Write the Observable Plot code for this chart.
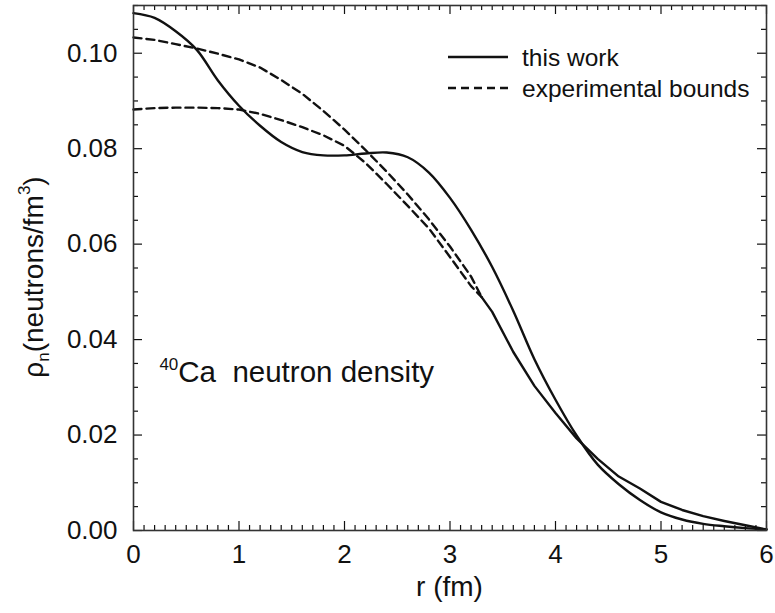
<!DOCTYPE html>
<html><head><meta charset="utf-8">
<script src="https://cdn.jsdelivr.net/npm/d3@7"></script>
<script src="https://cdn.jsdelivr.net/npm/@observablehq/plot@0.6"></script>
<style>
body{margin:0;background:#fff}
#chart svg{display:block}
</style>
</head><body><div id="chart"></div>
<script>
// ---- data ----
const rThis = [0,0.2,0.4,0.6,0.8,1.0,1.2,1.4,1.6,1.8,2.0,2.2,2.4,2.6,2.8,3.0,3.2,3.4,3.6,3.8,4.0,4.2,4.4,4.6,4.8,5.0,5.2,5.4,5.6,5.8,6.0];
const rhoThis = [0.1084,0.1074,0.1046,0.1007,0.0943,0.0890,0.0848,0.0814,0.0793,0.0786,0.0786,0.0790,0.0792,0.0782,0.0750,0.0697,0.0630,0.0552,0.0460,0.0359,0.0274,0.0199,0.0138,0.0097,0.0064,0.0038,0.0023,0.0014,0.0009,0.0005,0.0002];
const rExp = [0,0.2,0.4,0.6,0.8,1.0,1.2,1.4,1.6,1.8,2.0,2.2,2.4,2.6,2.8,3.0,3.2,3.3,3.4,3.6,3.8,4.0,4.2,4.4,4.6,4.8,5.0,5.2,5.4,5.6,5.8,6.0];
const rhoExpUpper = [0.1033,0.1028,0.1019,0.1010,0.0999,0.0987,0.0970,0.0944,0.0915,0.0879,0.0840,0.0797,0.0752,0.0704,0.0652,0.0595,0.0532,0.0489,0.0458,0.0374,0.0303,0.0246,0.0193,0.0150,0.0113,0.0088,0.0060,0.0043,0.0030,0.0020,0.0011,0.0002];
const rhoExpLower = [0.0882,0.0885,0.0886,0.0886,0.0885,0.0882,0.0873,0.0860,0.0845,0.0828,0.0806,0.0770,0.0726,0.0680,0.0633,0.0573,0.0512,0.0489,0.0458,0.0374,0.0303,0.0246,0.0193,0.0150,0.0113,0.0088,0.0060,0.0043,0.0030,0.0020,0.0011,0.0002];
const mergeR = 3.3; // beyond this the two bounds coincide
const xTicks = [0,1,2,3,4,5,6];
const yTicks = [0,0.02,0.04,0.06,0.08,0.10];
const yTickLabels = ["0.00","0.02","0.04","0.06","0.08","0.10"];
const seriesNames = ["this work","experimental bounds"];
const xLabel = "r (fm)";
const annotation = {sup: "40", text: "Ca  neutron density", r: 0.25, rho: 0.031};

// ---- layout ----
const W = 775, H = 613;
const mL = 133, mR = 9, mT = 5, mB = 83;
const fW = W - mL - mR, fH = H - mT - mB;
const font = "'Liberation Sans', Arial, Helvetica, sans-serif";
const ink = "#111";

const thisWork = rThis.map((r,i) => ({r, rho: rhoThis[i]}));
const expUp = rExp.map((r,i) => ({r, rho: rhoExpUpper[i]}));
const expLo = rExp.map((r,i) => ({r, rho: rhoExpLower[i]}));

const xMinor = d3.range(0, 61).map(i => i/10).filter(v => Math.abs(v - Math.round(v)) > 1e-9);
const yMinor = d3.range(0, 23).map(i => i*0.005).filter(v => Math.abs(v/0.02 - Math.round(v/0.02)) > 1e-9);

const majLen = 9, minLen = 5;

const plot = Plot.plot({
  width: W, height: H,
  marginLeft: mL, marginRight: mR, marginTop: mT, marginBottom: mB,
  style: {fontFamily: font, fontSize: "26px", color: ink, background: "#fff"},
  x: {domain: [0, 6]},
  y: {domain: [0, 0.11]},
  marks: [
    // curves
    Plot.line(expUp.filter(d => d.r <= mergeR + 1e-9), {x: "r", y: "rho", stroke: ink, strokeWidth: 2.4, strokeDasharray: "8,5"}),
    Plot.line(expLo.filter(d => d.r <= mergeR + 1e-9), {x: "r", y: "rho", stroke: ink, strokeWidth: 2.4, strokeDasharray: "8,5"}),
    Plot.line(expLo.filter(d => d.r >= mergeR - 1e-9), {x: "r", y: "rho", stroke: ink, strokeWidth: 2.4}),
    Plot.line(thisWork, {x: "r", y: "rho", stroke: ink, strokeWidth: 2.4, curve: "catmull-rom"}),
    // inward ticks on all four sides
    Plot.tickX(xTicks, {x: d => d, insetTop: fH - majLen, stroke: ink, strokeWidth: 1.2}),
    Plot.tickX(xTicks, {x: d => d, insetBottom: fH - majLen, stroke: ink, strokeWidth: 1.2}),
    Plot.tickX(xMinor, {x: d => d, insetTop: fH - minLen, stroke: ink, strokeWidth: 1.2}),
    Plot.tickX(xMinor, {x: d => d, insetBottom: fH - minLen, stroke: ink, strokeWidth: 1.2}),
    Plot.tickY(yTicks, {y: d => d, insetRight: fW - majLen, stroke: ink, strokeWidth: 1.2}),
    Plot.tickY(yTicks, {y: d => d, insetLeft: fW - majLen, stroke: ink, strokeWidth: 1.2}),
    Plot.tickY(yMinor, {y: d => d, insetRight: fW - minLen, stroke: ink, strokeWidth: 1.2}),
    Plot.tickY(yMinor, {y: d => d, insetLeft: fW - minLen, stroke: ink, strokeWidth: 1.2}),
    Plot.frame({stroke: "#333", strokeWidth: 1.6}),
    // tick labels
    Plot.axisX({ticks: xTicks, tickSize: 0, tickPadding: 14, label: null, tickFormat: d => String(d), fontSize: 26}),
    Plot.axisY({ticks: yTicks, tickSize: 0, tickPadding: 16, label: null, tickFormat: d => yTickLabels[yTicks.indexOf(d)], fontSize: 26})
  ]
});
document.getElementById("chart").appendChild(plot);

const svg = d3.select(plot);
const xs = plot.scale("x"), ys = plot.scale("y");

// x axis label
svg.append("text").attr("x", mL + fW/2).attr("y", 596)
  .attr("text-anchor", "middle").attr("font-family", font).attr("font-size", 28).attr("fill", ink)
  .text(xLabel);

// y axis label: ρn(neutrons/fm3)
const yl = svg.append("text").attr("transform", `translate(43,277) rotate(-90)`)
  .attr("text-anchor", "middle").attr("font-family", font).attr("font-size", 28).attr("fill", ink);
yl.append("tspan").text("ρ");
yl.append("tspan").attr("font-size", 17).attr("dy", 6).text("n");
yl.append("tspan").attr("dy", -6).text("(neutrons/fm");
yl.append("tspan").attr("font-size", 17).attr("dy", -13).text("3");
yl.append("tspan").attr("dy", 13).text(")");

// annotation
const ann = svg.append("text").attr("x", xs.apply(annotation.r)).attr("y", ys.apply(annotation.rho))
  .attr("text-anchor", "start")
  .attr("font-family", font).attr("font-size", 29.5).attr("fill", ink).style("white-space", "pre");
ann.append("tspan").attr("font-size", 17).attr("dy", -12).text(annotation.sup);
ann.append("tspan").attr("dy", 12).text(annotation.text);

// legend
const lg = svg.append("g").attr("font-family", font).attr("font-size", 24.5).attr("fill", ink).attr("text-anchor", "start");
const lx0 = 448, lx1 = 508, ly = [57, 88];
seriesNames.forEach((name, i) => {
  lg.append("line").attr("x1", lx0).attr("x2", lx1).attr("y1", ly[i]).attr("y2", ly[i])
    .attr("stroke", ink).attr("stroke-width", 2.4).attr("stroke-dasharray", i === 1 ? "8,5" : null);
  lg.append("text").attr("x", 522).attr("y", ly[i]).attr("dy", "0.35em").attr("text-anchor", "start").text(name);
});
</script>
</body></html>
